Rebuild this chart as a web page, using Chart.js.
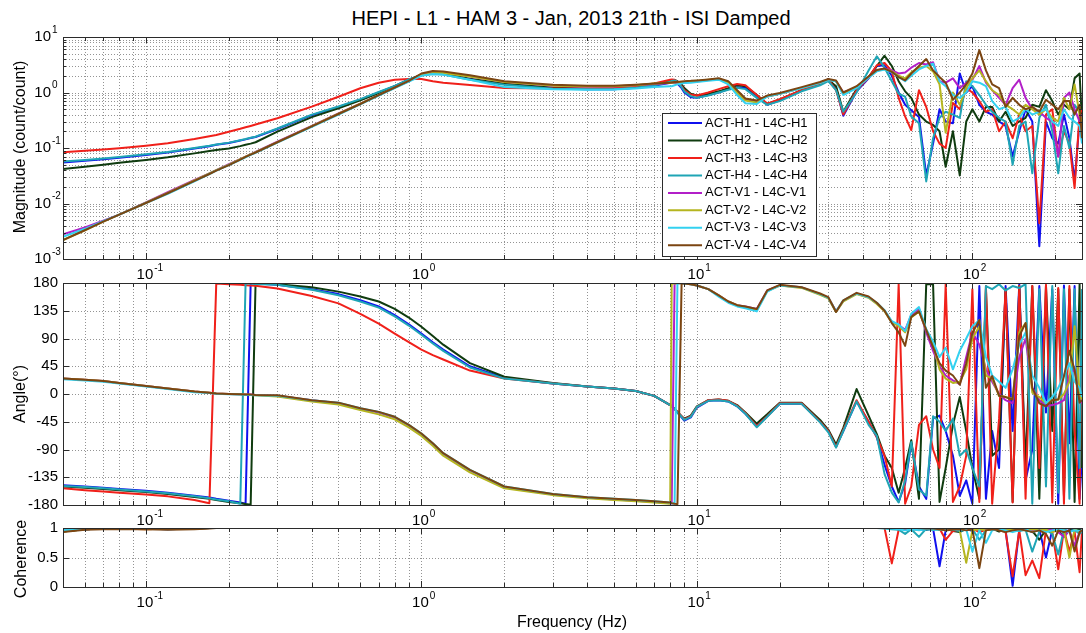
<!DOCTYPE html>
<html>
<head>
<meta charset="utf-8">
<script src="https://cdn.jsdelivr.net/npm/chart.js@4.4.1/dist/chart.umd.min.js"></script>
<style>
  body { margin: 0; width: 1086px; height: 633px; overflow: hidden; background: #fff; position: relative;
         font-family: "Liberation Sans", Arial, sans-serif; }
  canvas { position: absolute; left: 0; }
  .lbl { position: absolute; color: #000; white-space: nowrap; line-height: 1; }
  .ylbl { transform: translate(-50%, -50%) rotate(-90deg); }
</style>
</head>
<body>
<div class="lbl" style="left:60px; width:1022px; top:8px; text-align:center; font-size:20px;">HEPI - L1 - HAM 3 - Jan, 2013 21th - ISI Damped</div>
<canvas id="magChart" width="1086" height="285" style="top:0px"></canvas>
<canvas id="phaseChart" width="1086" height="260" style="top:270px"></canvas>
<canvas id="cohChart" width="1086" height="118" style="top:515px"></canvas>
<div class="lbl ylbl" style="left:20px; top:147px; font-size:16px;">Magnitude (count/count)</div>
<div class="lbl ylbl" style="left:20px; top:394px; font-size:16px;">Angle(°)</div>
<div class="lbl ylbl" style="left:21px; top:559px; font-size:16px;">Coherence</div>
<div class="lbl" style="left:572px; top:622px; transform:translate(-50%,-50%); font-size:16px;">Frequency (Hz)</div>

<script>
// ---- data ----
const freqs = [
  0.05, 0.06, 0.07, 0.08, 0.1, 0.12, 0.15, 0.17, 0.18, 0.2, 0.22, 0.23, 0.24, 0.25,
  0.3, 0.4, 0.5, 0.6, 0.7, 0.8, 0.9, 1.0, 1.1, 1.2, 1.5, 2, 3, 4, 5, 6, 7, 8,
  8.1, 8.3, 8.5, 8.8, 9, 9.5, 10, 11, 12, 13, 14, 15, 16.5, 18, 20,
  24, 28, 30, 32, 34, 38, 42, 45, 48, 51, 54, 57, 60, 64, 68, 72, 76, 80, 85, 90,
  95, 100, 106, 112, 118, 125, 132, 140, 148, 156, 165, 175, 185, 195, 205, 215, 225, 235, 245, 250
];

const seriesNames = ['ACT-H1 - L4C-H1', 'ACT-H2 - L4C-H2', 'ACT-H3 - L4C-H3', 'ACT-H4 - L4C-H4',
                     'ACT-V1 - L4C-V1', 'ACT-V2 - L4C-V2', 'ACT-V3 - L4C-V3', 'ACT-V4 - L4C-V4'];
const seriesColors = ['#1010ee', '#0f3b0f', '#f0201a', '#1fa5b5', '#b21fc8', '#b5b51f', '#33d1f0', '#7b4512'];

// magnitude (count/count)
const magH1 = [
  0.055, 0.059, 0.063, 0.067, 0.075, 0.083, 0.098, 0.108, 0.114, 0.123, 0.136, 0.143, 0.151, 0.158,
  0.22, 0.39, 0.55, 0.74, 1.0, 1.3, 1.7, 2.05, 2.2, 2.15, 1.75, 1.42, 1.2, 1.15, 1.15, 1.22, 1.32, 1.5,
  1.5, 1.5, 1.45, 1.2, 1.0, 0.82, 0.8, 0.9, 1.0, 1.15, 1.25, 1.2, 0.85, 0.6, 0.72,
  1.1, 1.4, 1.75, 1.2, 0.38, 1.05, 1.8, 3.0, 3.1, 2.0, 1.0, 0.6, 0.48, 0.36, 0.032, 0.12, 0.5, 0.3, 0.28, 2.2,
  1.0, 1.3, 0.6, 0.45, 0.4, 0.3, 0.25, 0.07, 0.2, 0.5, 0.3, 0.0017, 0.3, 0.15, 0.12, 0.4, 0.15, 0.025, 0.3, 0.2
];
const magH2 = [
  0.042, 0.046, 0.05, 0.054, 0.061, 0.068, 0.08, 0.088, 0.092, 0.098, 0.108, 0.114, 0.12, 0.127,
  0.197, 0.36, 0.52, 0.72, 0.98, 1.3, 1.7, 2.1, 2.3, 2.2, 1.75, 1.45, 1.22, 1.17, 1.18, 1.25, 1.4, 1.6,
  1.65, 1.68, 1.6, 1.4, 1.2, 0.95, 0.88, 0.95, 1.05, 1.2, 1.35, 1.3, 0.9, 0.62, 0.75,
  1.1, 1.45, 1.7, 1.3, 0.45, 1.15, 1.9, 3.0, 4.6, 3.0, 1.6, 1.05, 0.8, 0.4, 0.3, 0.26, 0.2, 0.046, 0.2, 0.032,
  0.3, 0.5, 0.3, 0.55, 0.55, 0.3, 0.45, 0.25, 0.3, 0.35, 0.6, 0.55, 1.1, 0.7, 0.4, 0.6, 0.5, 1.8, 2.2, 0.3
];
const magH3 = [
  0.0836, 0.089, 0.094, 0.099, 0.11, 0.122, 0.145, 0.163, 0.172, 0.197, 0.222, 0.236, 0.25, 0.265,
  0.343, 0.556, 0.84, 1.19, 1.5, 1.7, 1.75, 1.75, 1.6, 1.5, 1.36, 1.2, 1.18, 1.18, 1.2, 1.3, 1.45, 1.7,
  1.72, 1.7, 1.55, 1.3, 1.1, 0.92, 0.88, 1.0, 1.15, 1.3, 1.42, 1.35, 0.9, 0.63, 0.76,
  1.1, 1.45, 1.7, 1.1, 0.4, 1.1, 1.85, 3.1, 3.4, 2.4, 0.8, 0.37, 0.21, 1.1, 0.55, 0.2, 0.12, 0.1, 0.65, 0.5,
  1.2, 1.0, 0.7, 0.45, 0.5, 0.2, 0.3, 0.15, 0.4, 0.2, 0.25, 0.0044, 0.4, 0.5, 0.07, 0.2, 0.12, 0.019, 0.4, 0.5
];
const magH4 = [
  0.057, 0.061, 0.065, 0.069, 0.077, 0.085, 0.1, 0.11, 0.116, 0.125, 0.138, 0.145, 0.153, 0.16,
  0.225, 0.4, 0.56, 0.76, 1.02, 1.32, 1.72, 2.05, 2.15, 2.1, 1.7, 1.38, 1.17, 1.14, 1.15, 1.22, 1.35, 1.55,
  1.62, 1.65, 1.55, 1.25, 1.05, 0.86, 0.8, 0.88, 1.0, 1.12, 1.22, 1.15, 0.8, 0.6, 0.7,
  1.05, 1.35, 1.6, 1.1, 0.45, 1.0, 2.5, 4.5, 2.8, 1.6, 0.95, 0.84, 0.37, 0.28, 0.025, 0.15, 0.35, 0.45, 0.4, 0.35,
  1.6, 1.3, 0.9, 0.6, 0.45, 0.35, 0.3, 0.05, 0.25, 0.3, 0.035, 0.35, 0.6, 0.2, 0.035, 0.25, 0.1, 0.6, 0.45, 0.25
];
const magV1 = [
  0.0028, 0.0037, 0.0049, 0.0063, 0.0105, 0.016, 0.0265, 0.035, 0.04, 0.051, 0.063, 0.07, 0.077, 0.085,
  0.13, 0.25, 0.42, 0.63, 0.9, 1.22, 1.6, 2.1, 2.35, 2.3, 1.95, 1.55, 1.32, 1.28, 1.28, 1.35, 1.42, 1.48,
  1.5, 1.5, 1.5, 1.5, 1.52, 1.55, 1.58, 1.68, 1.75, 1.5, 1.0, 0.74, 0.68, 0.85, 0.95,
  1.2, 1.5, 1.7, 1.6, 1.0, 1.25, 1.9, 2.5, 2.7, 2.5, 2.2, 2.3, 2.8, 3.4, 3.2, 3.5, 1.6, 1.5, 1.8, 1.2,
  1.5, 1.7, 3.0, 1.5, 1.1, 0.8, 0.6, 1.2, 1.7, 0.8, 0.5, 0.45, 0.35, 0.3, 0.07, 0.8, 1.0, 0.5, 0.3, 0.4
];
const magV2 = [
  0.0022, 0.0033, 0.0047, 0.0063, 0.0103, 0.0155, 0.026, 0.035, 0.04, 0.05, 0.063, 0.07, 0.077, 0.084,
  0.128, 0.248, 0.415, 0.63, 0.9, 1.22, 1.6, 2.05, 2.25, 2.25, 1.95, 1.55, 1.33, 1.3, 1.3, 1.35, 1.45, 1.5,
  1.5, 1.52, 1.52, 1.55, 1.55, 1.6, 1.62, 1.7, 1.75, 1.5, 1.0, 0.72, 0.66, 0.85, 0.95,
  1.2, 1.5, 1.7, 1.6, 0.95, 1.25, 1.9, 2.5, 2.65, 2.4, 2.0, 1.8, 2.3, 2.8, 3.0, 2.4, 1.4, 0.19, 1.0, 0.6,
  1.2, 1.8, 2.5, 1.6, 1.1, 0.9, 0.6, 0.5, 0.4, 0.6, 0.5, 0.4, 0.5, 0.35, 0.3, 0.8, 0.5, 1.4, 0.4, 0.3
];
const magV3 = [
  0.0025, 0.0035, 0.0048, 0.0063, 0.0102, 0.015, 0.025, 0.034, 0.039, 0.049, 0.061, 0.068, 0.075, 0.082,
  0.125, 0.24, 0.4, 0.61, 0.88, 1.2, 1.58, 2.0, 2.15, 2.1, 1.7, 1.25, 1.14, 1.12, 1.13, 1.18, 1.25, 1.3,
  1.3, 1.35, 1.4, 1.45, 1.48, 1.5, 1.55, 1.62, 1.7, 1.4, 0.9, 0.64, 0.62, 0.85, 0.95,
  1.2, 1.5, 1.68, 1.6, 0.9, 1.2, 1.85, 2.4, 2.6, 2.3, 1.9, 1.6, 2.0, 2.6, 3.0, 3.3, 1.6, 1.3, 0.9, 0.8,
  1.0, 1.6, 1.5, 1.3, 0.7, 0.5, 0.55, 0.3, 0.35, 0.5, 0.4, 0.45, 0.5, 0.3, 0.25, 0.5, 0.35, 0.3, 0.25, 0.12
];
const magV4 = [
  0.0022, 0.0033, 0.0047, 0.0063, 0.0102, 0.0153, 0.0255, 0.034, 0.039, 0.049, 0.062, 0.069, 0.076, 0.083,
  0.127, 0.245, 0.41, 0.62, 0.9, 1.23, 1.62, 2.2, 2.45, 2.4, 2.05, 1.6, 1.38, 1.32, 1.32, 1.38, 1.45, 1.5,
  1.52, 1.55, 1.55, 1.58, 1.6, 1.62, 1.65, 1.72, 1.8, 1.6, 1.1, 0.78, 0.72, 0.88, 0.98,
  1.25, 1.55, 1.75, 1.65, 1.0, 1.3, 1.95, 2.55, 2.7, 2.35, 1.9, 1.65, 2.2, 3.0, 4.0, 2.5, 1.9, 1.5, 0.74, 1.0,
  1.4, 2.2, 5.8, 2.5, 1.4, 1.2, 0.55, 0.8, 0.6, 0.5, 0.55, 0.45, 0.74, 0.6, 0.5, 0.7, 0.7, 0.4, 0.6, 0.15
];

// phase (degrees, wrapped)
const phH1 = [
  -148, -150, -152, -154, -157, -160, -165, -168, -170, -173, -176, -178, 179.5, 179,
  177, 170, 162, 152, 142, 128, 113, 98, 84, 72, 45, 26, 17, 12, 9, 5, -3, -18,
  -20, -24, -30, -38, -43, -38, -22, -11, -10, -12, -20, -32, -52, -36, -16,
  -16, -44, -60, -85, -60, -12, -45, -70, -115, -150, -175, -145, -80, -150, -170, -40, -35, -60, -100, -165,
  -140, -178, 175, -170, -60, -120, 175, -60, 178, -140, -90, 175, -30, 170, -178, 176, -80, 175, -170, -100
];
const phH2 = [
  -150, -152, -154, -156, -159, -162, -167, -170, -172, -175, -177, -178.5, -179.5, 179.5,
  178, 173, 166, 158, 150, 138, 124, 109, 94, 80, 50, 28, 18, 12, 9, 5, -3, -18,
  -20, -24, -29, -36, -40, -35, -20, -10, -9, -11, -18, -30, -48, -33, -14,
  -14, -42, -58, -82, -55, 8, -35, -65, -100, -120, -160, -120, -75, -170, 178, 178, -175, -120, -50, -5,
  -60, -120, -170, 170, -100, -90, 170, -175, 175, -120, 175, -170, 175, -60, 170, -165, 170, -175, 178, -120
];
const phH3 = [
  -153, -156, -158, -160, -163, -166, -172, -177, 179, 178, 177, 176.5, 176, 175.5,
  171, 159, 147, 130, 114, 98, 84, 72, 63, 56, 38, 25, 17, 12, 9, 5, -3, -18,
  -20, -24, -29, -36, -41, -36, -21, -10, -9, -11, -19, -31, -52, -36, -15,
  -15, -45, -60, -86, -58, -10, -45, -70, -100, -150, 178, -178, -150, -50, -36, -90, -120, 178, -175, -150,
  -100, 170, -175, 175, -178, -40, 170, -176, 175, -170, 175, -120, 177, -176, 172, -178, 175, -60, -178, 170
];
const phH4 = [
  -149, -151, -153, -155, -158, -161, -166, -169, -171, -174, -178, 179.5, 179, 178.5,
  177, 169, 160, 150, 140, 126, 111, 96, 82, 70, 43, 25, 17, 12, 9, 5, -3, -18,
  -20, -24, -30, -37, -42, -37, -21, -11, -10, -12, -20, -32, -54, -37, -16,
  -16, -46, -62, -87, -60, -12, -50, -68, -130, -160, -176, -140, -78, -155, -165, -36, -45, -60, -40, -100,
  -90, -120, -150, 175, 170, 178, 168, 175, 172, 178, -178, 170, -150, 175, -160, 170, -170, 170, -120, 170
];
const phV1 = [
  25, 23, 21, 18, 13, 9, 4, 2, 1, 0, -0.5, -1, -1, -1.5,
  -3, -10, -15, -24, -30, -38, -51, -65, -81, -97, -124, -151, -163, -168, -171, -173, -175, -177,
  -177.5, 179, 179.5, 179.5, 179, 178, 176, 170, 160, 150, 144, 142, 138, 168, 176,
  173, 162, 156, 134, 151, 163, 157, 147, 135, 117, 112, 104, 128, 138, 100, 70, 45, 30, 22, 16,
  60, 100, 80, 40, 20, 0, -10, -15, 60, 90, 10, -10, -20, -18, -15, -10, 30, 40, -10, -15
];
const phV2 = [
  25, 23, 21, 18, 13, 9, 4, 2, 1, 0, -0.5, -1, -1.5, -2,
  -4, -12, -17, -26, -33, -41, -54, -68, -84, -100, -127, -153, -164, -169, -172, -174, -176, -178,
  179, 179, 179.5, 179.5, 179, 178, 176, 170, 160, 150, 144, 141, 136, 167, 176,
  172, 161, 155, 133, 150, 162, 156, 146, 134, 116, 110, 100, 124, 134, 104, 80, 40, 25, 18, 20,
  40, 90, 110, 30, 25, -3, -5, -8, 100, 115, 2, -5, -15, -10, -9, 0, 20, 110, 0, -10
];
const phV3 = [
  24, 22, 20, 17, 12, 8, 3, 1.5, 0.5, -0.5, -1, -1.5, -1.5, -2,
  -3, -10, -14, -23, -29, -37, -50, -64, -80, -96, -123, -150, -162, -167.5, -170, -172, -174, -176,
  -177, -178, 179.5, 179.5, 179, 178, 176, 170, 158, 148, 142, 139, 134, 166, 176,
  173, 162, 156, 134, 152, 163, 157, 148, 136, 118, 113, 102, 130, 141, 105, 85, 60, 75, 40, 70,
  90, 110, 120, 60, 30, 20, 10, 40, 80, 100, 30, 10, -15, -5, 10, 30, 50, 20, 10, -5
];
const phV4 = [
  25, 23, 21, 18, 13, 9, 4, 2, 1, 0, -0.5, -1, -1, -1.5,
  -2, -10, -14, -23, -29, -37, -50, -64, -80, -96, -123, -150, -162, -167.5, -170, -172, -174, -176,
  -177, -178, -178.5, 179.5, 179, 178, 176, 170, 160, 150, 144, 142, 138, 168, 177,
  173, 163, 157, 133, 152, 164, 158, 148, 135, 115, 100, 78, 125, 134, 104, 76, 50, 38, 30, 15,
  50, 99, 120, 10, 29, -3, -5, -9, 94, 115, 10, -15, -20, -10, -9, 29, 70, 39, -14, -10
];

// coherence
const cohH1 = [
  0.95, 0.98, 0.99, 0.99, 0.99, 0.98, 0.99, 1, 1, 1, 1, 1, 1, 1,
  1, 1, 1, 1, 1, 1, 1, 1, 1, 1, 1, 1, 1, 1, 1, 1, 1, 1,
  1, 1, 1, 1, 1, 1, 1, 1, 1, 1, 1, 1, 1, 1, 1,
  1, 1, 1, 1, 1, 1, 1, 1, 1, 1, 0.99, 0.98, 0.99, 0.98, 0.97, 0.99, 0.35, 0.96, 0.99, 0.97,
  0.99, 0.95, 0.99, 0.98, 0.97, 0.99, 0.97, 0.02, 0.97, 0.99, 0.93, 0.97, 0.5, 0.97, 0.99, 0.96, 0.95, 0.99, 0.97, 0.94
];
const cohH2 = [
  0.94, 0.98, 0.99, 0.99, 0.99, 0.99, 0.99, 1, 1, 1, 1, 1, 1, 1,
  1, 1, 1, 1, 1, 1, 1, 1, 1, 1, 1, 1, 1, 1, 1, 1, 1, 1,
  1, 1, 1, 1, 1, 1, 1, 1, 1, 1, 1, 1, 1, 1, 1,
  1, 1, 1, 1, 1, 1, 1, 1, 1, 1, 0.99, 0.99, 0.98, 0.99, 0.97, 0.99, 0.97, 0.99, 0.95, 0.93,
  0.99, 0.97, 0.99, 0.97, 0.99, 0.94, 0.99, 0.97, 0.98, 0.96, 0.95, 0.8, 0.97, 0.99, 0.96, 0.85, 0.97, 0.95, 0.99, 0.9
];
const cohH3 = [
  0.95, 0.98, 0.99, 0.99, 0.98, 0.99, 0.99, 1, 1, 1, 1, 1, 1, 1,
  1, 1, 1, 1, 1, 1, 1, 1, 1, 1, 1, 1, 1, 1, 1, 1, 1, 1,
  1, 1, 1, 1, 1, 1, 1, 1, 1, 1, 1, 1, 1, 1, 1,
  1, 1, 1, 1, 1, 1, 1, 1, 1, 0.4, 0.97, 0.99, 0.97, 0.98, 0.99, 0.97, 0.99, 0.8, 0.95, 0.97,
  0.97, 0.99, 0.93, 0.97, 0.99, 0.96, 0.93, 0.18, 0.96, 0.2, 0.45, 0.15, 0.97, 0.93, 0.3, 0.97, 0.6, 0.94, 0.25, 0.97
];
const cohH4 = [
  0.96, 0.98, 0.99, 0.99, 0.99, 0.99, 1, 1, 1, 1, 1, 1, 1, 1,
  1, 1, 1, 1, 1, 1, 1, 1, 1, 1, 1, 1, 1, 1, 1, 1, 1, 1,
  1, 1, 1, 1, 1, 1, 1, 1, 1, 1, 1, 1, 1, 1, 1,
  1, 1, 1, 1, 1, 1, 1, 1, 0.99, 0.98, 0.97, 0.9, 0.98, 0.85, 0.99, 0.97, 0.98, 0.99, 0.97, 0.95,
  0.97, 0.98, 0.8, 0.96, 0.99, 0.97, 0.94, 0.97, 0.95, 0.97, 0.6, 0.94, 0.97, 0.9, 0.55, 0.97, 0.94, 0.97, 0.9, 0.94
];
const cohV1 = [
  0.95, 0.98, 0.99, 0.99, 0.99, 0.99, 1, 1, 1, 1, 1, 1, 1, 1,
  1, 1, 1, 1, 1, 1, 1, 1, 1, 1, 1, 1, 1, 1, 1, 1, 1, 1,
  1, 1, 1, 1, 1, 1, 1, 1, 1, 1, 1, 1, 1, 1, 1,
  1, 1, 1, 1, 1, 1, 1, 1, 1, 1, 1, 0.99, 1, 0.99, 1, 0.99, 0.99, 0.98, 0.99, 0.98,
  0.97, 0.99, 0.97, 0.98, 0.99, 0.97, 0.98, 0.96, 0.98, 0.97, 0.96, 0.98, 0.96, 0.97, 0.93, 0.85, 0.96, 0.7, 0.93, 0.96
];
const cohV2 = [
  0.94, 0.98, 0.99, 0.99, 0.98, 0.99, 0.99, 1, 1, 1, 1, 1, 1, 1,
  1, 1, 1, 1, 1, 1, 1, 1, 1, 1, 1, 1, 1, 1, 1, 1, 1, 1,
  1, 1, 1, 1, 1, 1, 1, 1, 1, 1, 1, 1, 1, 1, 1,
  1, 1, 1, 1, 1, 1, 1, 1, 1, 1, 1, 1, 1, 0.99, 0.99, 0.99, 0.98, 0.96, 0.97, 0.96,
  0.41, 0.96, 0.98, 0.96, 0.98, 0.97, 0.96, 0.98, 0.97, 0.96, 0.98, 0.96, 0.97, 0.93, 0.96, 0.96, 0.5, 0.98, 0.93, 0.96
];
const cohV3 = [
  0.96, 0.98, 0.99, 0.99, 0.99, 0.98, 0.99, 1, 1, 1, 1, 1, 1, 1,
  1, 1, 1, 1, 1, 1, 1, 1, 1, 1, 1, 1, 1, 1, 1, 1, 1, 1,
  1, 1, 1, 1, 1, 1, 1, 1, 1, 1, 1, 1, 1, 1, 1,
  1, 1, 1, 1, 1, 1, 1, 1, 1, 0.99, 0.98, 0.96, 0.98, 0.96, 0.98, 0.97, 0.98, 0.96, 0.97, 0.96,
  0.98, 0.6, 0.96, 0.75, 0.96, 0.98, 0.96, 0.93, 0.96, 0.98, 0.93, 0.96, 0.93, 0.96, 0.98, 0.96, 0.93, 0.96, 0.95, 0.96
];
const cohV4 = [
  0.93, 0.97, 0.98, 0.98, 0.98, 0.97, 0.98, 0.99, 1, 1, 1, 1, 1, 1,
  1, 1, 1, 1, 1, 1, 1, 1, 1, 1, 1, 1, 1, 1, 1, 1, 1, 1,
  1, 1, 1, 1, 1, 1, 1, 1, 1, 1, 1, 1, 1, 1, 1,
  1, 1, 1, 1, 1, 1, 1, 1, 1, 1, 1, 1, 1, 1, 0.99, 0.99, 0.98, 0.96, 0.97, 0.98,
  0.96, 0.98, 0.32, 0.96, 0.98, 0.96, 0.93, 0.96, 0.98, 0.96, 0.93, 0.96, 0.9, 0.7, 0.96, 0.93, 0.96, 0.6, 0.93, 0.96
];

// axis ticks
const xDecades = [0.1, 1, 10, 100];
const xDecadeExp = ['-1', '0', '1', '2'];
const magTicks = [0.001, 0.01, 0.1, 1, 10];
const magTickExp = ['-3', '-2', '-1', '0', '1'];
const phaseTicks = [-180, -135, -90, -45, 0, 45, 90, 135, 180];
const cohTicks = [0, 0.5, 1];

// ---- helpers ----
const FONT = '"Liberation Sans", Arial, sans-serif';

// grid positions for log axes (1..9 times each decade)
function logGrid(lo, hi) {
  const out = [];
  for (let e = -4; e <= 3; e++) {
    for (let m = 1; m <= 9; m++) {
      const v = m * Math.pow(10, e);
      if (v >= lo * 0.999 && v <= hi * 1.001) out.push(v);
    }
  }
  return out;
}
const xGrid = logGrid(0.05, 250);
const magGrid = logGrid(0.001, 10);

function drawPow(ctx, exp, x, y, align) {
  ctx.font = '15px ' + FONT;
  const w = ctx.measureText('10').width;
  const x0 = align === 'center' ? x - w / 2 : x - w;
  ctx.textAlign = 'left';
  ctx.textBaseline = 'middle';
  ctx.fillText('10', x0, y);
  ctx.font = '10px ' + FONT;
  ctx.fillText(exp, x0 + w + 1, y - 7);
}

function axesPlugin(cfg) {
  return {
    id: 'matlabAxes',
    beforeDatasetsDraw(chart) {
      const { ctx, chartArea: a, scales: { x, y } } = chart;
      ctx.save();
      ctx.strokeStyle = 'rgba(0,0,0,0.42)';
      ctx.lineWidth = 1;
      ctx.setLineDash([1, 2]);
      ctx.beginPath();
      xGrid.forEach(v => {
        const px = Math.round(x.getPixelForValue(v)) + 0.5;
        ctx.moveTo(px, a.top); ctx.lineTo(px, a.bottom);
      });
      cfg.yGrid.forEach(v => {
        const py = Math.round(y.getPixelForValue(v)) + 0.5;
        ctx.moveTo(a.left, py); ctx.lineTo(a.right, py);
      });
      ctx.stroke();
      ctx.restore();
    },
    afterDatasetsDraw(chart) {
      const { ctx, chartArea: a, scales: { x, y } } = chart;
      ctx.save();
      ctx.strokeStyle = '#2b2b2b';
      ctx.lineWidth = 1;
      ctx.beginPath();
      // inward ticks
      xGrid.forEach(v => {
        const px = Math.round(x.getPixelForValue(v)) + 0.5;
        const len = xDecades.includes(v) ? 6 : 4;
        ctx.moveTo(px, a.bottom); ctx.lineTo(px, a.bottom - len);
        ctx.moveTo(px, a.top); ctx.lineTo(px, a.top + len);
      });
      cfg.yTicks.forEach(v => {
        const py = Math.round(y.getPixelForValue(v)) + 0.5;
        ctx.moveTo(a.left, py); ctx.lineTo(a.left + 6, py);
        ctx.moveTo(a.right, py); ctx.lineTo(a.right - 6, py);
      });
      (cfg.yMinor || []).forEach(v => {
        const py = Math.round(y.getPixelForValue(v)) + 0.5;
        ctx.moveTo(a.left, py); ctx.lineTo(a.left + 3, py);
        ctx.moveTo(a.right, py); ctx.lineTo(a.right - 3, py);
      });
      ctx.stroke();
      ctx.strokeRect(Math.round(a.left) + 0.5, Math.round(a.top) + 0.5,
                     Math.round(a.right - a.left), Math.round(a.bottom - a.top));
      // tick labels
      ctx.fillStyle = '#000';
      xDecades.forEach((v, i) => drawPow(ctx, xDecadeExp[i], x.getPixelForValue(v) - 1, a.bottom + 16, 'center'));
      cfg.yTicks.forEach((v, i) => {
        const py = y.getPixelForValue(v);
        if (cfg.yExp) {
          drawPow(ctx, cfg.yExp[i], a.left - 12, py, 'right');
        } else {
          ctx.font = '15px ' + FONT;
          ctx.textAlign = 'right';
          ctx.textBaseline = 'middle';
          ctx.fillText(String(v), a.left - 5, py);
        }
      });
      ctx.restore();
    }
  };
}

const boxLegend = {
  id: 'boxLegend',
  afterDraw(chart) {
    const ctx = chart.ctx;
    const left = 662, top = 113, w = 154, h = 143, step = 17.47;
    ctx.save();
    ctx.fillStyle = '#fff';
    ctx.fillRect(left, top, w, h);
    ctx.strokeStyle = '#2b2b2b';
    ctx.lineWidth = 1;
    ctx.strokeRect(left + 0.5, top + 0.5, w, h);
    ctx.font = '13px ' + FONT;
    ctx.textBaseline = 'middle';
    ctx.textAlign = 'left';
    chart.data.datasets.forEach((ds, i) => {
      const yy = top + 10 + i * step;
      ctx.strokeStyle = ds.borderColor;
      ctx.lineWidth = 2;
      ctx.beginPath();
      ctx.moveTo(left + 6, yy); ctx.lineTo(left + 40, yy);
      ctx.stroke();
      ctx.fillStyle = '#000';
      ctx.fillText(ds.label, left + 43, yy);
    });
    ctx.restore();
  }
};

function buildSets(valueLists) {
  return valueLists.map((vals, i) => {
    if (vals.length !== freqs.length) console.error('length mismatch', seriesNames[i], vals.length);
    return {
      label: seriesNames[i],
      data: freqs.map((f, j) => ({ x: f, y: vals[j] })),
      borderColor: seriesColors[i],
      backgroundColor: seriesColors[i],
      borderWidth: 2,
      pointRadius: 0,
      tension: 0,
      borderJoinStyle: 'round',
      order: valueLists.length - i
    };
  });
}

function makeChart(id, sets, yScale, padTop, xHeight, plugins) {
  return new Chart(document.getElementById(id), {
    type: 'line',
    data: { datasets: sets },
    options: {
      responsive: false,
      animation: false,
      events: [],
      layout: { padding: { top: padTop, right: 4, bottom: 0, left: 0 } },
      plugins: { legend: { display: false }, tooltip: { enabled: false } },
      scales: {
        x: {
          type: 'logarithmic', min: 0.05, max: 250,
          grid: { display: false }, border: { display: false }, ticks: { display: false },
          afterFit: s => { s.height = xHeight; }
        },
        y: Object.assign({
          grid: { display: false }, border: { display: false }, ticks: { display: false },
          afterFit: s => { s.width = 63; }
        }, yScale)
      }
    },
    plugins: plugins
  });
}

// ---- charts ----
makeChart('magChart',
  buildSets([magH1, magH2, magH3, magH4, magV1, magV2, magV3, magV4]),
  { type: 'logarithmic', min: 0.001, max: 10 }, 37, 26,
  [axesPlugin({ yTicks: magTicks, yExp: magTickExp, yGrid: magGrid, yMinor: magGrid }), boxLegend]);

makeChart('phaseChart',
  buildSets([phH1, phH2, phH3, phH4, phV1, phV2, phV3, phV4]),
  { type: 'linear', min: -180, max: 180 }, 13, 25,
  [axesPlugin({ yTicks: phaseTicks, yGrid: phaseTicks })]);

makeChart('cohChart',
  buildSets([cohH1, cohH2, cohH3, cohH4, cohV1, cohV2, cohV3, cohV4]),
  { type: 'linear', min: 0, max: 1 }, 13, 46,
  [axesPlugin({ yTicks: cohTicks, yGrid: cohTicks })]);
</script>
</body>
</html>
